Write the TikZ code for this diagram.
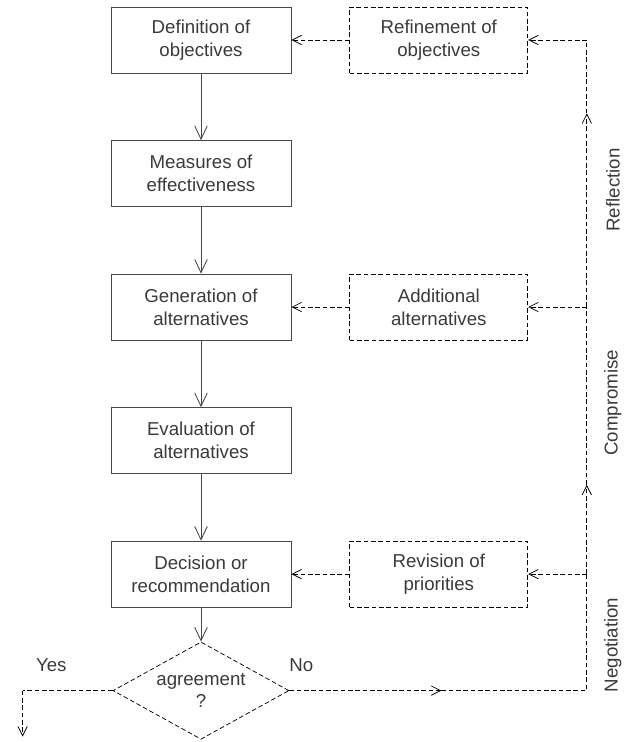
\documentclass[tikz,border=0pt]{standalone}
\usepackage{fontspec}
\setmainfont{Liberation Sans}
\usetikzlibrary{calc,positioning,chains,scopes,arrows.meta,shapes.geometric}
\definecolor{txtgray}{HTML}{3A3A3A}
\definecolor{linegray}{HTML}{484848}
\tikzset{
    >={Straight Barb[length=10pt,width=9.5pt]},
    stepbox/.style={
        rectangle,
        draw=linegray, line width=0.65pt,
        minimum width=135pt,
        minimum height=49.5pt,
        align=center,
        text=txtgray,
        font=\fontsize{14pt}{17pt}\selectfont,
        on chain
    },
    feedbox/.style={
        rectangle,
        draw=black, line width=0.55pt,
        dash pattern=on 3.5pt off 2pt,
        minimum width=133.5pt,
        minimum height=49.5pt,
        align=center,
        text=txtgray,
        font=\fontsize{14pt}{17pt}\selectfont
    },
    decision/.style={
        diamond, aspect=1.8, inner sep=0pt,
        draw=black, line width=0.55pt,
        dash pattern=on 3.5pt off 2pt,
        minimum width=132pt,
        minimum height=73pt,
        align=center,
        text=txtgray,
        font=\fontsize{14pt}{17pt}\selectfont
    },
    dashline/.style={draw=black, line width=0.55pt, dash pattern=on 3.5pt off 2pt},
    dasharrow/.style={dashline, -{Straight Barb[length=7pt,width=7pt]}},
    solidarrow/.style={draw=linegray, line width=0.65pt, ->},
    every join/.style={solidarrow},
    sidelabel/.style={rotate=90, text=txtgray, font=\fontsize{14pt}{17pt}\selectfont},
    branchlabel/.style={text=txtgray, font=\fontsize{14pt}{17pt}\selectfont}
}

\begin{document}
\begin{tikzpicture}[node distance=50pt and 43.5pt]
    \useasboundingbox (0,0) rectangle (469.5pt,-556.5pt);
    { [start chain=main going below]
        \node[stepbox] (defobj) at (150.75pt,-30pt) {Definition of\\objectives};
        \node[stepbox,join] (measures) {Measures of\\effectiveness};
        \node[stepbox,join] (genalt) {Generation of\\alternatives};
        \node[stepbox,join] (evalalt) {Evaluation of\\alternatives};
        \node[stepbox,join] (decision) {Decision or\\recommendation};
    }
    % feedback boxes
    \node[feedbox, right=of defobj] (refine) {Refinement of\\objectives};
    \node[feedbox, right=of genalt] (addalt) {Additional\\alternatives};
    \node[feedbox, right=of decision] (revise) {Revision of\\priorities};

    \node[decision, below=25.5pt of decision] (agree) {agreement\\?};
    \draw[solidarrow] (decision) -- (agree);

    % feedback line
    \coordinate[right=44pt of refine.east] (reftop);
    \coordinate (addjoin) at (reftop |- addalt.east);
    \coordinate (revjoin) at (reftop |- revise.east);
    \coordinate (corner) at (reftop |- agree.east);
    \coordinate[below=55pt of reftop] (reflmid);
    \coordinate[above=67pt of revjoin] (compmid);
    \coordinate[right=114pt of agree.east] (nomid);

    \draw[dasharrow] (agree.east) -- (nomid);
    \draw[dashline] (nomid) -- (corner) -- (revjoin);
    \draw[dasharrow] (revjoin) -- (compmid);
    \draw[dashline] (compmid) -- (addjoin);
    \draw[dasharrow] (addjoin) -- (reflmid);
    \draw[dashline] (reflmid) -- (reftop);

    \draw[dasharrow] (reftop) -- (refine.east);
    \draw[dasharrow] (addjoin) -- (addalt.east);
    \draw[dasharrow] (revjoin) -- (revise.east);
    \draw[dasharrow] (refine) -- (defobj);
    \draw[dasharrow] (addalt) -- (genalt);
    \draw[dasharrow] (revise) -- (decision);

    % yes branch
    \coordinate[left=67.5pt of agree.west] (yescorner);
    \coordinate[below=34.5pt of yescorner] (yesend);
    \draw[dashline] (agree.west) -- (yescorner);
    \draw[dasharrow] (yescorner) -- (yesend);

    \node[branchlabel] (yes) at ($(agree.west)+(-46pt,19pt)$) {Yes};
    \node[branchlabel] (no) at ($(agree.east)+(9pt,19pt)$) {No};

    \node[sidelabel] (refl) at ($(reftop)+(19.5pt,-112.5pt)$) {Reflection};
    \node[sidelabel] (comp) at ($(reftop)+(19.5pt,-272pt)$) {Compromise};
    \node[sidelabel] (nego) at ($(reftop)+(19.5pt,-453.75pt)$) {Negotiation};
\end{tikzpicture}
\end{document}
